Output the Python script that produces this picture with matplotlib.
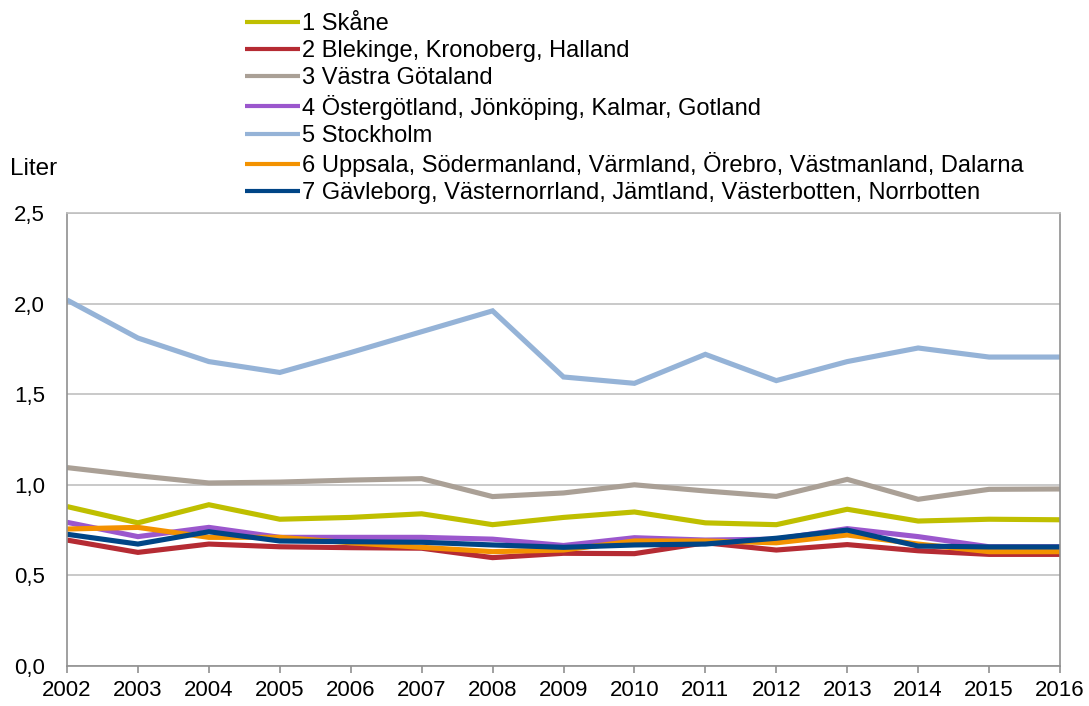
#!/usr/bin/env python3
# Line chart: litres per region and year, 2002-2016

import matplotlib.pyplot as plt

plt.rcParams['font.family'] = ['Liberation Sans', 'DejaVu Sans']

years = list(range(2002, 2017))

skane = [0.88, 0.79, 0.89, 0.81, 0.82, 0.84, 0.78, 0.82, 0.85, 0.79, 0.78, 0.865, 0.80, 0.81, 0.807]
blekinge = [0.695, 0.627, 0.673, 0.658, 0.653, 0.65, 0.598, 0.622, 0.62, 0.68, 0.64, 0.67, 0.636, 0.616, 0.616]
vastra_gotaland = [1.095, 1.05, 1.01, 1.015, 1.026, 1.034, 0.935, 0.955, 1.0, 0.966, 0.936, 1.03, 0.92, 0.975, 0.977]
ostergotland = [0.793, 0.714, 0.765, 0.71, 0.71, 0.71, 0.70, 0.665, 0.708, 0.695, 0.70, 0.758, 0.714, 0.658, 0.658]
stockholm = [2.02, 1.81, 1.68, 1.62, 1.73, 1.845, 1.96, 1.595, 1.56, 1.72, 1.575, 1.68, 1.755, 1.705, 1.705]
uppsala = [0.756, 0.765, 0.71, 0.71, 0.68, 0.655, 0.631, 0.64, 0.69, 0.69, 0.68, 0.723, 0.673, 0.631, 0.631]
gavleborg = [0.727, 0.673, 0.741, 0.69, 0.686, 0.683, 0.668, 0.655, 0.668, 0.673, 0.705, 0.75, 0.662, 0.657, 0.657]

series = [
    ('1 Skåne', skane, '#BFBF00'),
    ('2 Blekinge, Kronoberg, Halland', blekinge, '#B52B33'),
    ('3 Västra Götaland', vastra_gotaland, '#AAA096'),
    ('4 Östergötland, Jönköping, Kalmar, Gotland', ostergotland, '#9B57CD'),
    ('5 Stockholm', stockholm, '#95B3D7'),
    ('6 Uppsala, Södermanland, Värmland, Örebro, Västmanland, Dalarna', uppsala, '#F39200'),
    ('7 Gävleborg, Västernorrland, Jämtland, Västerbotten, Norrbotten', gavleborg, '#004586'),
]

y_ticks = [0.0, 0.5, 1.0, 1.5, 2.0, 2.5]

fig = plt.figure(figsize=(10.89, 7.06), dpi=100)
ax = fig.add_axes([67 / 1089, 1 - 666 / 706, (1060 - 67) / 1089, (666 - 213) / 706])

for label, values, color in series:
    ax.plot(years, values, color=color, linewidth=3.7, label=label,
            solid_capstyle='butt', solid_joinstyle='miter')

ax.set_xlim(years[0], years[-1])
ax.set_ylim(0, 2.5)
ax.set_xticks(years)
ax.set_yticks(y_ticks)
ax.set_yticklabels([f'{v:.1f}'.replace('.', ',') for v in y_ticks])
ax.tick_params(labelsize=16, colors='#909090', labelcolor='black', width=1.2)
ax.tick_params(axis='x', length=5, pad=5)
ax.tick_params(axis='y', length=0, pad=16)
ax.grid(axis='y', color='#C0C0C0', linewidth=1.2)
ax.set_axisbelow(True)
for side in ['left', 'bottom', 'right', 'top']:
    ax.spines[side].set_color('#909090')
    ax.spines[side].set_linewidth(1.2)
ax.spines['top'].set_color('#C0C0C0')

fig.text(10 / 1089, 1 - 169 / 706, 'Liter', fontsize=17.5, va='center', ha='left')

leg = ax.legend(loc='upper left', bbox_to_anchor=(245 / 1089, 1 - 13 / 706),
                bbox_transform=fig.transFigure, frameon=False, fontsize=17,
                handlelength=2.35, handletextpad=0.05, labelspacing=0.22,
                borderaxespad=0, borderpad=0)
for line in leg.get_lines():
    line.set_linewidth(3.0)

plt.savefig('out.png', dpi=100)
